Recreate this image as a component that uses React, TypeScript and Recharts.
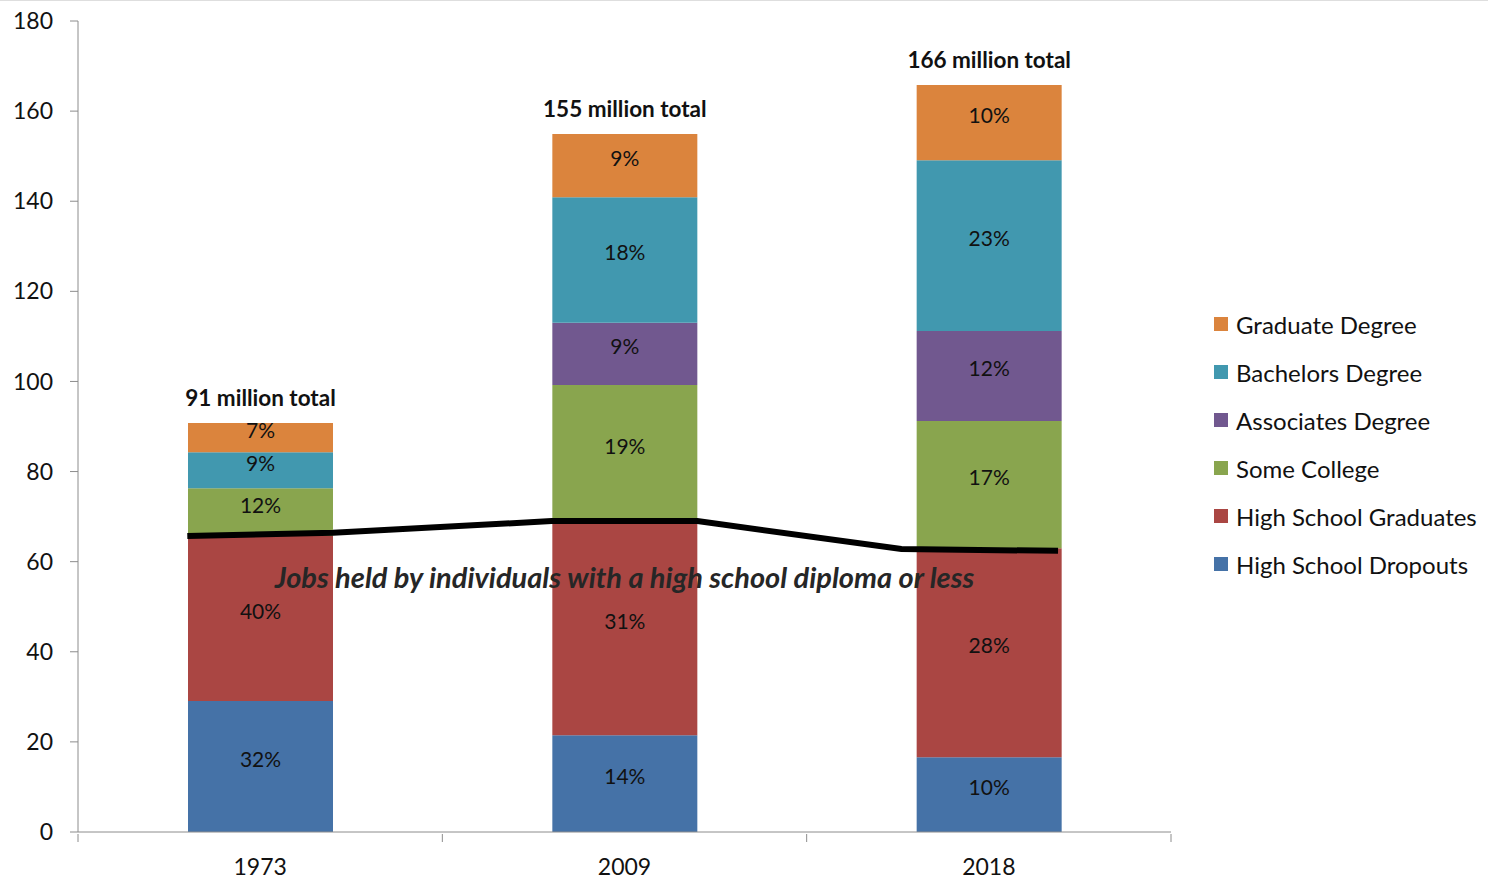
import React from "react";
import {
  ComposedChart,
  Bar,
  Scatter,
  XAxis,
  YAxis,
  LabelList,
  Legend,
  ReferenceDot,
} from "recharts";

const years = ["1973", "2009", "2018"];
const totals = ["91 million total", "155 million total", "166 million total"];

const dropouts = [29.1, 21.5, 16.6];
const hsGrads = [36.6, 47.5, 46.4];
const someCollege = [10.6, 30.2, 28.2];
const associates = [0, 13.8, 20.0];
const bachelors = [8.0, 27.9, 37.9];
const graduate = [6.5, 14.0, 16.7];

const dropoutsPct = ["32%", "14%", "10%"];
const hsGradsPct = ["40%", "31%", "28%"];
const someCollegePct = ["12%", "19%", "17%"];
const associatesPct = ["", "9%", "12%"];
const bachelorsPct = ["9%", "18%", "23%"];
const graduatePct = ["7%", "9%", "10%"];

// high school diploma or less line, x in category units (0..3)
const lineX = [0.3, 0.7, 1.3, 1.7, 2.26, 2.69];
const lineY = [65.7, 66.4, 69.0, 69.0, 62.8, 62.4];

const yTicks = [0, 20, 40, 60, 80, 100, 120, 140, 160, 180];

const FONT = "Lato, 'Open Sans', sans-serif";
const AXIS = "#8c8c8c";

const series = [
  { key: "dropouts", name: "High School Dropouts", color: "#4572A7" },
  { key: "hsGrads", name: "High School Graduates", color: "#AA4643" },
  { key: "someCollege", name: "Some College", color: "#89A54E" },
  { key: "associates", name: "Associates Degree", color: "#71588F" },
  { key: "bachelors", name: "Bachelors Degree", color: "#4198AF" },
  { key: "graduate", name: "Graduate Degree", color: "#DB843D" },
];

const data = years.map((year, i) => ({
  year,
  total: totals[i],
  dropouts: dropouts[i],
  hsGrads: hsGrads[i],
  someCollege: someCollege[i],
  associates: associates[i],
  bachelors: bachelors[i],
  graduate: graduate[i],
  dropoutsPct: dropoutsPct[i],
  hsGradsPct: hsGradsPct[i],
  someCollegePct: someCollegePct[i],
  associatesPct: associatesPct[i],
  bachelorsPct: bachelorsPct[i],
  graduatePct: graduatePct[i],
}));

const lineData = lineX.map((x, i) => ({ x, y: lineY[i] }));

// year label at band centre, tick marks on the band edges
function YearTick(props: any) {
  const { x, y, payload, index } = props;
  const half = payload.offset || 0;
  return (
    <g>
      <line x1={x - half} x2={x - half} y1={y} y2={y + 8} stroke={AXIS} />
      {index === years.length - 1 && (
        <line x1={x + half} x2={x + half} y1={y} y2={y + 8} stroke={AXIS} />
      )}
      <text x={x} y={y + 41} textAnchor="middle" fill="#111" fontSize={23} fontFamily={FONT}>
        {payload.value}
      </text>
    </g>
  );
}

function LegendBox() {
  return (
    <div style={{ fontFamily: FONT, fontSize: 24, color: "#111" }}>
      {[...series].reverse().map((s) => (
        <div key={s.key} style={{ display: "flex", alignItems: "center", height: 48 }}>
          <span style={{ width: 14, height: 14, background: s.color, marginRight: 8, display: "inline-block" }} />
          <span>{s.name}</span>
        </div>
      ))}
    </div>
  );
}

export default function App() {
  return (
    <div style={{ position: "absolute", left: 0, top: 0, width: 1488, height: 890, borderTop: "1px solid #dedede", boxSizing: "border-box" }}>
      <ComposedChart
        width={1488}
        height={889}
        data={data}
        margin={{ top: 20, right: 43, bottom: 0, left: 0 }}
        style={{ fontFamily: FONT }}
      >
        <XAxis
          xAxisId="c"
          dataKey="year"
          stroke={AXIS}
          tickLine={false}
          tickSize={0}
          height={58}
          tick={<YearTick />}
        />
        <XAxis xAxisId="n" type="number" dataKey="x" domain={[0, 3]} hide allowDataOverflow />
        <YAxis
          domain={[0, 180]}
          ticks={yTicks}
          width={78}
          tickSize={8}
          tickMargin={17}
          stroke={AXIS}
          tick={{ fill: "#111", fontSize: 23 }}
        />
        {series.map((s) => (
          <Bar
            key={s.key}
            xAxisId="c"
            dataKey={s.key}
            name={s.name}
            stackId="jobs"
            fill={s.color}
            barSize={145}
            isAnimationActive={false}
          >
            <LabelList dataKey={`${s.key}Pct`} position="center" fill="#111" fontSize={21} dy={-7} />
            {s.key === "graduate" && (
              <LabelList dataKey="total" position="top" offset={17} fill="#111" fontSize={22.5} fontWeight="bold" />
            )}
          </Bar>
        ))}
        <Scatter
          xAxisId="n"
          data={lineData}
          dataKey="y"
          line={{ stroke: "#000", strokeWidth: 6 }}
          shape={() => <g />}
          isAnimationActive={false}
        />
        <ReferenceDot
          xAxisId="n"
          x={1.5}
          y={56.4}
          r={1}
          fill="none"
          stroke="none"
          label={{
            value: "Jobs held by individuals with a high school diploma or less",
            position: "center",
            fill: "#262626",
            fontSize: 29,
            fontWeight: "bold",
            fontStyle: "italic",
          }}
        />
        <Legend
          layout="horizontal"
          verticalAlign="middle"
          align="right"
          width={274}
          wrapperStyle={{ left: 1214, top: 299, right: "auto" }}
          content={() => <LegendBox />}
        />
      </ComposedChart>
    </div>
  );
}
